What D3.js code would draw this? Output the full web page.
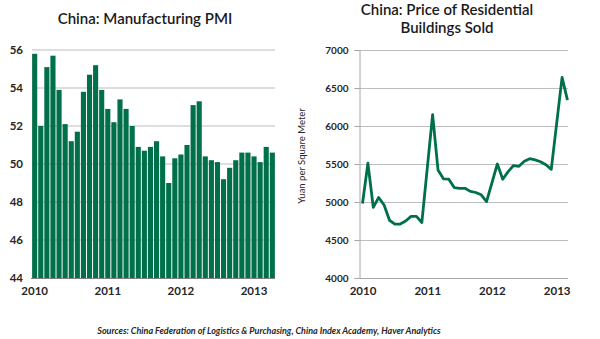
<!DOCTYPE html>
<html>
<head>
<meta charset="utf-8">
<script src="https://cdn.jsdelivr.net/npm/d3@7"></script>
<style>
  body { margin: 0; background: #fff; }
  svg text { font-family: Lato, "DejaVu Sans", sans-serif; fill: #262626; }
  .tick text { font-weight: bold; }
  .title { font-size: 15px; font-weight: 600; fill: #1a1a1a; }
</style>
</head>
<body>
<svg width="600" height="339"></svg>
<script>
// PMI, monthly Jan 2010 - Apr 2013
var pmiValues = [
  55.8, 52.0, 55.1, 55.7, 53.9, 52.1, 51.2, 51.7, 53.8, 54.7, 55.2, 53.9,
  52.9, 52.2, 53.4, 52.9, 52.0, 50.9, 50.7, 50.9, 51.2, 50.4, 49.0, 50.3,
  50.5, 51.0, 53.1, 53.3, 50.4, 50.2, 50.1, 49.2, 49.8, 50.2, 50.6, 50.6,
  50.4, 50.1, 50.9, 50.6
];
var pmiMonths = pmiValues.map(function (d, i) {
  return (2010 + Math.floor(i / 12)) + "-" + String(i % 12 + 1).padStart(2, "0");
});

// Residential price, yuan per sq m (no separate January from 2011 on)
var priceDates = [
  "2010-01", "2010-02", "2010-03", "2010-04", "2010-05", "2010-06", "2010-07", "2010-08",
  "2010-09", "2010-10", "2010-11", "2010-12",
  "2011-02", "2011-03", "2011-04", "2011-05", "2011-06", "2011-07", "2011-08", "2011-09",
  "2011-10", "2011-11", "2011-12",
  "2012-02", "2012-03", "2012-04", "2012-05", "2012-06", "2012-07", "2012-08", "2012-09",
  "2012-10", "2012-11", "2012-12",
  "2013-02", "2013-03"
];
var priceValues = [
  4980, 5510, 4930, 5060, 4960, 4760, 4710, 4710, 4750, 4810, 4810, 4730,
  6150, 5420, 5305, 5300, 5190, 5180, 5180, 5140, 5125, 5095, 5005,
  5500, 5300, 5400, 5480, 5470, 5535, 5570, 5555, 5530, 5490, 5430,
  6640, 6340
];

var yearLabels = ["2010", "2011", "2012", "2013"];
var pmiTicks = [44, 46, 48, 50, 52, 54, 56];
var priceTicks = [4000, 4500, 5000, 5500, 6000, 6500, 7000];

var green = "#00704a";
var svg = d3.select("svg");

// ---------- left: PMI bars ----------
var xBand = d3.scaleBand().domain(pmiMonths).range([32, 275]).paddingInner(0.16).paddingOuter(0.02);
var yPmi = d3.scaleLinear().domain([44, 56]).range([278, 50]);

var left = svg.append("g");

left.selectAll(".grid")
  .data(pmiTicks.filter(function (d) { return d > 44; }))
  .enter().append("line")
  .attr("x1", 32).attr("x2", 275)
  .attr("y1", function (d) { return yPmi(d); })
  .attr("y2", function (d) { return yPmi(d); })
  .attr("stroke", "#bdbdbd").attr("stroke-width", 1);

left.selectAll("rect")
  .data(pmiValues)
  .enter().append("rect")
  .attr("x", function (d, i) { return xBand(pmiMonths[i]); })
  .attr("width", xBand.bandwidth())
  .attr("y", function (d) { return yPmi(d); })
  .attr("height", function (d) { return yPmi(44) - yPmi(d); })
  .attr("fill", green);

left.append("line")
  .attr("x1", 31).attr("x2", 275)
  .attr("y1", 278.5).attr("y2", 278.5)
  .attr("stroke", "#808080");

var yAxisL = left.append("g")
  .attr("transform", "translate(25,0)")
  .call(d3.axisLeft(yPmi).tickValues(pmiTicks).tickSize(0).tickPadding(2).tickFormat(d3.format("d")));
yAxisL.select(".domain").remove();
yAxisL.selectAll("text").style("font-size", "11.5px");

var xAxisL = left.append("g")
  .attr("transform", "translate(0,282)")
  .call(d3.axisBottom(xBand)
    .tickValues(yearLabels.map(function (y) { return y + "-01"; }))
    .tickSize(0).tickPadding(5)
    .tickFormat(function (d) { return d.slice(0, 4); }));
xAxisL.select(".domain").remove();
xAxisL.selectAll("text").style("font-size", "11.5px");

left.append("text")
  .attr("class", "title")
  .attr("x", 145).attr("y", 24)
  .attr("text-anchor", "middle")
  .text("China: Manufacturing PMI");

// ---------- right: price line ----------
function monthIndex(s) {
  return (+s.slice(0, 4) - 2010) * 12 + (+s.slice(5, 7) - 1);
}
var xPrice = d3.scaleLinear().domain([-0.65, 38.1]).range([359, 568]);
var yPrice = d3.scaleLinear().domain([4000, 7000]).range([278, 50]);

var right = svg.append("g");

right.selectAll(".grid")
  .data(priceTicks.filter(function (d) { return d > 4000; }))
  .enter().append("line")
  .attr("x1", 359).attr("x2", 568)
  .attr("y1", function (d) { return yPrice(d) + 0.5; })
  .attr("y2", function (d) { return yPrice(d) + 0.5; })
  .attr("stroke", "#bdbdbd");

var yAxisR = right.append("g")
  .attr("transform", "translate(359.5,0)")
  .call(d3.axisLeft(yPrice).tickValues(priceTicks).tickSize(5).tickPadding(6).tickFormat(d3.format("d")));
yAxisR.select(".domain").attr("stroke", "#a6a6a6");
yAxisR.selectAll(".tick line").attr("stroke", "#a6a6a6");
yAxisR.selectAll("text").style("font-size", "10px");

right.append("line")
  .attr("x1", 359).attr("x2", 568)
  .attr("y1", 278.5).attr("y2", 278.5)
  .attr("stroke", "#a6a6a6");

var xAxisR = right.append("g")
  .attr("transform", "translate(0,282)")
  .call(d3.axisBottom(xPrice)
    .tickValues(yearLabels.map(function (y) { return (+y - 2010) * 12; }))
    .tickSize(0).tickPadding(5)
    .tickFormat(function (d) { return String(2010 + d / 12); }));
xAxisR.select(".domain").remove();
xAxisR.selectAll("text").style("font-size", "11.5px");

var line = d3.line()
  .x(function (d) { return xPrice(monthIndex(d.date)); })
  .y(function (d) { return yPrice(d.value); });

right.append("path")
  .datum(priceDates.map(function (d, i) { return { date: d, value: priceValues[i] }; }))
  .attr("d", line)
  .attr("fill", "none")
  .attr("stroke", green)
  .attr("stroke-width", 2.8)
  .attr("stroke-linejoin", "round");

right.append("text")
  .attr("transform", "translate(305,156) rotate(-90)")
  .attr("text-anchor", "middle")
  .style("font-size", "9.5px")
  .text("Yuan per Square Meter");

right.append("text")
  .attr("class", "title")
  .attr("x", 447).attr("y", 15)
  .attr("text-anchor", "middle")
  .text("China: Price of Residential");
right.append("text")
  .attr("class", "title")
  .attr("x", 447).attr("y", 33)
  .attr("text-anchor", "middle")
  .text("Buildings Sold");

// ---------- source ----------
svg.append("text")
  .attr("x", 269).attr("y", 334)
  .attr("text-anchor", "middle")
  .style("font-size", "9px")
  .style("font-style", "italic")
  .style("font-weight", "bold")
  .text("Sources: China Federation of Logistics & Purchasing, China Index Academy, Haver Analytics");
</script>
</body>
</html>
